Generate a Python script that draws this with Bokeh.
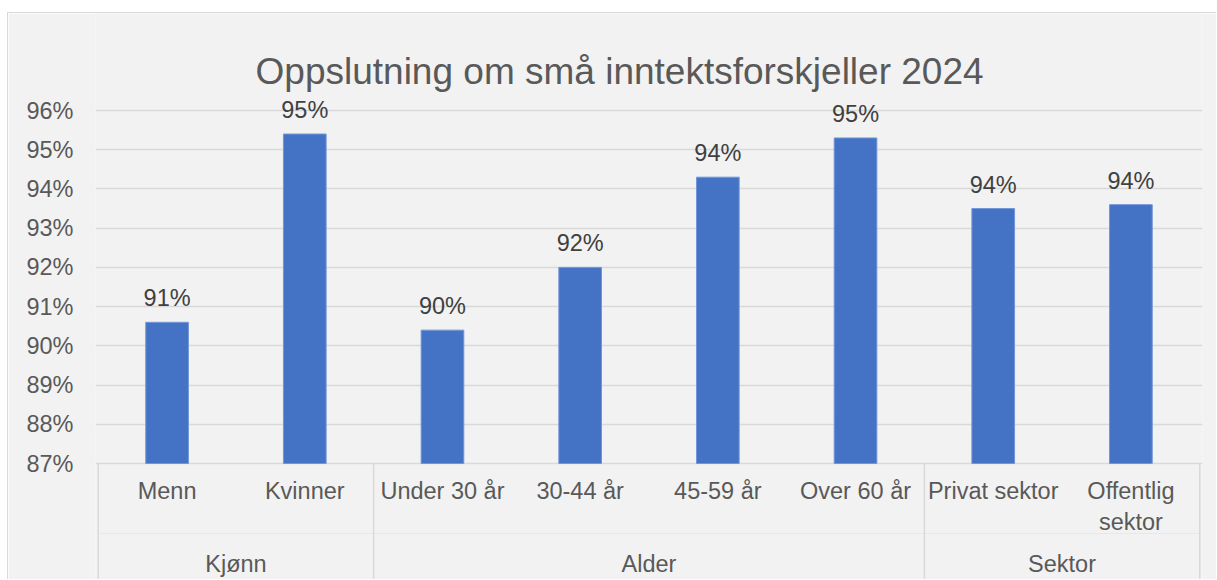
from bokeh.plotting import figure
from bokeh.models import FactorRange, Range1d, FixedTicker, ColumnDataSource, Label
from bokeh.embed import file_html
from bokeh.resources import INLINE
from bokeh.core.properties import value

# ---------------- data ----------------
title_text = "Oppslutning om små inntektsforskjeller 2024"
groups = ["Kjønn", "Alder", "Sektor"]
group_members = [
    ["Menn", "Kvinner"],
    ["Under 30 år", "30-44 år", "45-59 år", "Over 60 år"],
    ["Privat sektor", "Offentlig sektor"],
]
category_labels = ["Menn", "Kvinner", "Under 30 år", "30-44 år", "45-59 år",
                   "Over 60 år", "Privat sektor", "Offentlig\nsektor"]
values = [90.6, 95.4, 90.4, 92.0, 94.3, 95.3, 93.5, 93.6]
y_ticks = [87, 88, 89, 90, 91, 92, 93, 94, 95, 96]
y_tick_labels = ["87%", "88%", "89%", "90%", "91%", "92%", "93%", "94%", "95%", "96%"]

# ---------------- derived ----------------
factors = [(g, c) for g, members in zip(groups, group_members) for c in members]
value_labels = [f"{int(v + 0.5)}%" for v in values]
bounds = [0]
for members in group_members:
    bounds.append(bounds[-1] + len(members))

FONT = "Liberation Sans"
AXIS_COLOR = "#595959"
LABEL_COLOR = "#404040"
GRID_COLOR = "#d9d9d9"
BG = "#f2f2f2"

# vertical mapping: 96 -> page y 110, 87 -> page y 463 ; canvas top 13, bottom 580
PX_PER_UNIT = (463 - 110) / (y_ticks[-1] - y_ticks[0])
Y_TOP = y_ticks[-1] + (110 - 13) / PX_PER_UNIT
Y_BOTTOM = y_ticks[0] - (580 - 463) / PX_PER_UNIT

x_range = FactorRange(*factors, factor_padding=0, group_padding=0,
                      range_padding=0.02, range_padding_units="absolute")

p = figure(x_range=x_range, y_range=Range1d(Y_BOTTOM, Y_TOP),
           width=1209, height=567, output_backend="svg", toolbar_location=None,
           x_axis_location=None,
           min_border_left=87, min_border_right=15, min_border_top=0, min_border_bottom=0,
           background_fill_color=BG, border_fill_color=BG, outline_line_color=None)
p.margin = (12, 0, 0, 7)
p.styles = {"border-left": "1px solid #d9d9d9", "border-top": "1px solid #d9d9d9"}

# grid
p.xgrid.visible = False
p.ygrid.ticker = FixedTicker(ticks=y_ticks)
p.ygrid.grid_line_color = GRID_COLOR
p.ygrid.grid_line_width = 1.5

# y axis
yax = p.yaxis[0]
yax.ticker = FixedTicker(ticks=y_ticks)
yax.major_label_overrides = {t: l for t, l in zip(y_ticks, y_tick_labels)}
yax.axis_line_color = None
yax.major_tick_line_color = None
yax.minor_tick_line_color = None
yax.major_tick_out = 0
yax.major_tick_in = 0
yax.major_label_standoff = 22
yax.major_label_text_font = FONT
yax.major_label_text_font_size = "23.5px"
yax.major_label_text_color = AXIS_COLOR

src = ColumnDataSource(dict(x=factors, top=values, label=value_labels, cat=category_labels))

p.vbar(x="x", top="top", bottom=y_ticks[0], width=0.31, source=src,
       fill_color="#4472c4", line_color="#7396d8", line_width=1)

# data labels
p.text(x="x", y="top", text="label", source=src, text_align="center",
       text_baseline="alphabetic", y_offset=-24, text_font=value(FONT),
       text_font_size="23.5px", text_color=LABEL_COLOR)

# category labels
p.text(x="x", y=y_ticks[0], text="cat", source=src, text_align="center",
       text_baseline="top", y_offset=14, text_font=value(FONT),
       text_font_size="23.5px", text_color=AXIS_COLOR, text_line_height=1.2)

# group labels
gsrc = ColumnDataSource(dict(x=groups))
p.text(x="x", y=y_ticks[0], text="x", source=gsrc, text_align="center",
       text_baseline="top", y_offset=87, text_font=value(FONT),
       text_font_size="23.5px", text_color=AXIS_COLOR)

# faint line between the two label levels
mid_y = y_ticks[0] - 70 / PX_PER_UNIT
p.segment(x0=[bounds[0]], y0=[mid_y], x1=[bounds[-1]], y1=[mid_y],
          line_color="#e8e8e8", line_width=1)

# group separators
p.segment(x0=bounds, y0=[y_ticks[0]] * len(bounds), x1=bounds, y1=[Y_BOTTOM] * len(bounds),
          line_color=GRID_COLOR, line_width=1.5)

# title
n = bounds[-1]
px_per_x = 1107 / (n + 0.02)
title_x = -0.01 + (619 - 95) / px_per_x
title_y = y_ticks[-1] + (110 - 71) / PX_PER_UNIT
p.add_layout(Label(x=title_x, y=title_y, text=title_text, text_align="center",
                   text_baseline="alphabetic", text_font=FONT, text_font_size="37px",
                   text_color=AXIS_COLOR))

open("out.html", "w").write(file_html(p, INLINE))
